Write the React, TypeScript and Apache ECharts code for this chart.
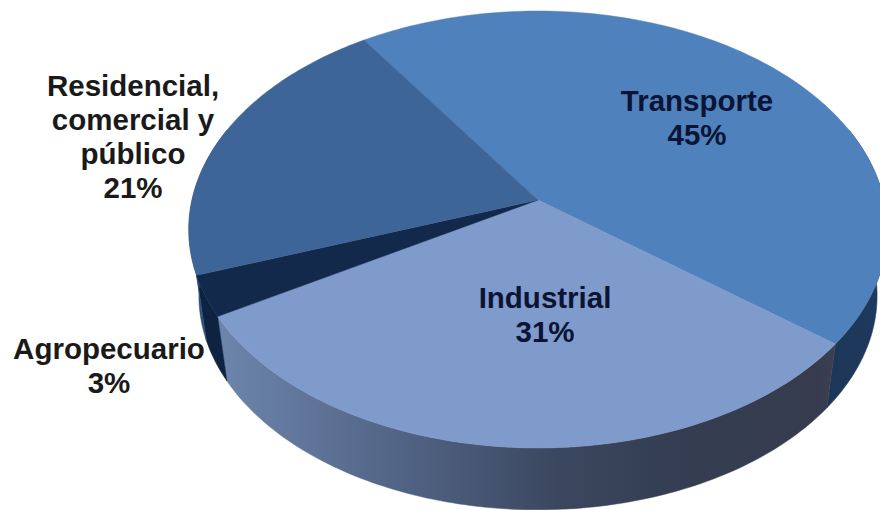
import React, { useEffect, useRef } from "react";
import * as echarts from "echarts";

const sectors = ["Transporte", "Industrial", "Agropecuario", "Residencial, comercial y público"];
const shares = [45, 31, 3, 21];
const labelLines = [["Transporte", "45%"], ["Industrial", "31%"], ["Agropecuario", "3%"], ["Residencial,", "comercial y", "público", "21%"]];
const topColors = ["#4f81bd", "#7f9bcb", "#12294b", "#3e6598"];

const START_DEG = -34;
const TOTAL = shares.reduce((a, b) => a + b, 0);
// Side wall is only built on the part of the rim that faces the viewer.
const FRONT_FROM = 70;
const FRONT_TO = 290;

// Perspective disc: u/v on the unit circle map onto a projected ellipse.
const topRim = { x0: 538, y0: 200, bx: 346, ay: 214.5, p: 0.135 };
const lowRim = { x0: 538, y0: 267, bx: 336, ay: 210, p: 0.135 };

function project(rim: typeof topRim, deg: number): number[] {
  const r = (deg * Math.PI) / 180;
  const u = Math.sin(r);
  const v = -Math.cos(r);
  const d = 1 - rim.p * v;
  return [rim.x0 + (rim.bx * u) / d, rim.y0 + (rim.ay * v) / d];
}

function arc(rim: typeof topRim, from: number, to: number): number[][] {
  const pts: number[][] = [];
  const n = Math.max(2, Math.ceil(Math.abs(to - from)));
  for (let i = 0; i <= n; i++) pts.push(project(rim, from + ((to - from) * i) / n));
  return pts;
}

function sliceRange(i: number): number[] {
  let sum = 0;
  for (let k = 0; k < i; k++) sum += shares[k];
  const from = START_DEG + (sum / TOTAL) * 360;
  return [from, from + (shares[i] / TOTAL) * 360];
}

function wallFill(i: number): any {
  const h = (stops: [number, string][]) =>
    new echarts.graphic.LinearGradient(0, 0, 1, 0, stops.map(([offset, color]) => ({ offset, color })));
  if (i === 0) return h([[0, "#1c3657"], [1, "#1e3a5f"]]);
  if (i === 1)
    return h([
      [0, "#6d85ac"],
      [0.15, "#5f7498"],
      [0.32, "#4f6182"],
      [0.55, "#3b475f"],
      [0.75, "#343d51"],
      [0.97, "#363c4e"],
      [1, "#3c3f50"],
    ]);
  if (i === 2) return "#0e2341";
  return "#2f5079";
}

function renderWall(params: any) {
  const i = params.dataIndex;
  const [a, b] = sliceRange(i);
  const from = Math.max(a, FRONT_FROM);
  const to = Math.min(b, FRONT_TO);
  if (to <= from) return { type: "group", children: [] };
  const fill = wallFill(i);
  return {
    type: "polygon",
    shape: { points: [...arc(topRim, from, to), ...arc(lowRim, to, from)] },
    style: { fill, stroke: fill, lineWidth: 0.5 },
  };
}

function renderTop(params: any) {
  const i = params.dataIndex;
  const [a, b] = sliceRange(i);
  return {
    type: "polygon",
    shape: { points: [[topRim.x0, topRim.y0], ...arc(topRim, a, b)] },
    style: { fill: topColors[i], stroke: topColors[i], lineWidth: 0.5 },
  };
}

// Centre x and first-line vertical position of each label block.
const labelAnchors = [
  [697, 85],
  [545, 282],
  [109, 333],
  [133, 70],
];
const labelInks = ["#0b1434", "#0b1434", "#1a1a1a", "#1a1a1a"];
const LINE_HEIGHT = 34;

function renderLabel(params: any) {
  const i = params.dataIndex;
  const [cx, top] = labelAnchors[i];
  return {
    type: "group",
    children: labelLines[i].map((line, k) => ({
      type: "text",
      x: cx,
      y: top + k * LINE_HEIGHT,
      style: {
        text: line,
        fill: labelInks[i],
        font: 'bold 29.5px "Liberation Sans", Arial, sans-serif',
        align: "center",
        verticalAlign: "top",
      },
    })),
  };
}

export default function App() {
  const ref = useRef<HTMLDivElement>(null);
  useEffect(() => {
    const chart = echarts.init(ref.current!, undefined, { renderer: "svg" });
    const data = sectors.map((name, i) => ({ name, value: shares[i] }));
    const base = { type: "custom", coordinateSystem: "none", silent: true, data };
    chart.setOption({
      animation: false,
      backgroundColor: "#ffffff",
      series: [
        { ...base, z: 1, renderItem: renderWall },
        { ...base, z: 2, renderItem: renderTop },
        { ...base, z: 3, renderItem: renderLabel },
      ],
    });
    return () => chart.dispose();
  }, []);
  return <div ref={ref} style={{ position: "absolute", left: 0, top: 0, width: 880, height: 510 }} />;
}
